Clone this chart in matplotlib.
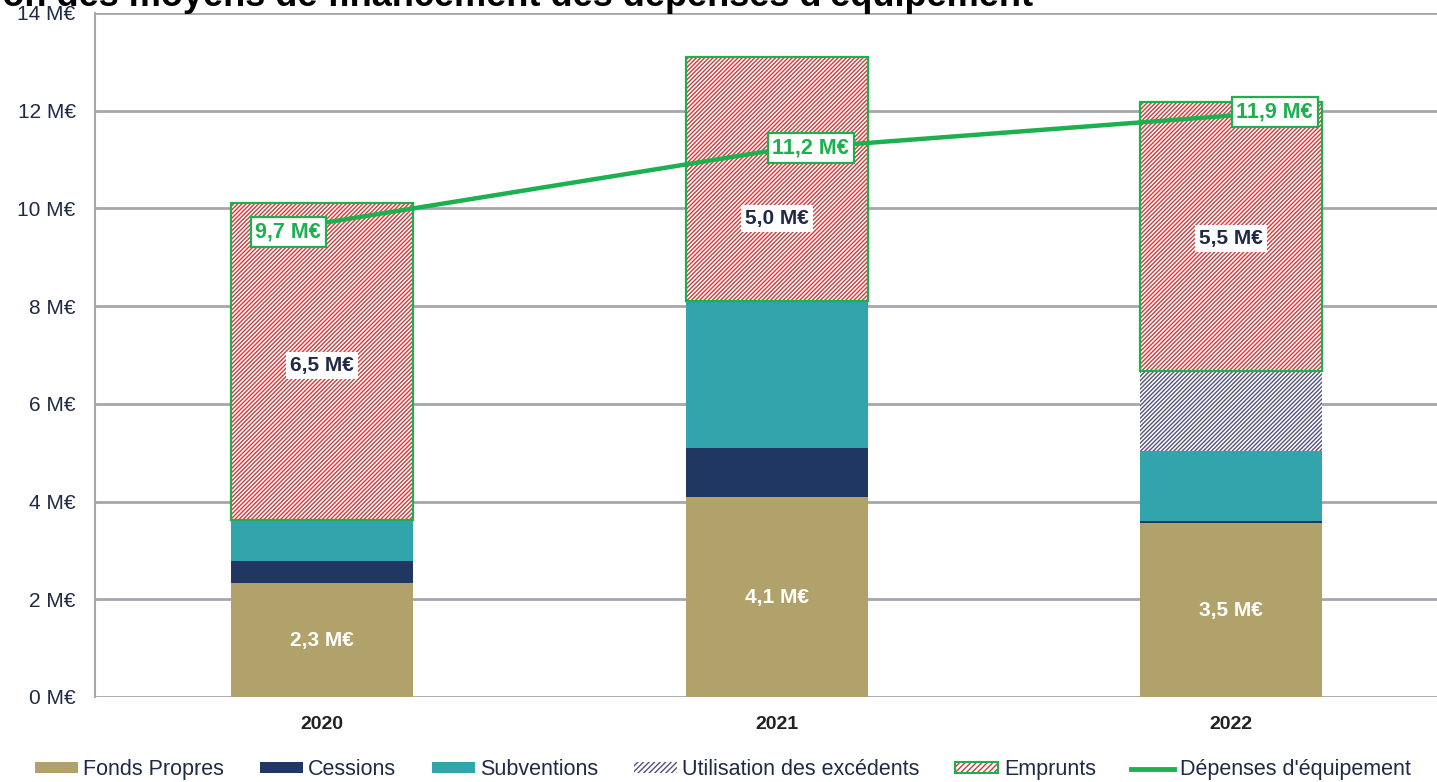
import matplotlib
matplotlib.use("Agg")
import matplotlib.pyplot as plt
from matplotlib.patches import Patch
from matplotlib.lines import Line2D
import numpy as np

plt.rcParams['font.family'] = ['Liberation Sans', 'DejaVu Sans']

years = ["2020", "2021", "2022"]
fonds_propres = [2.33, 4.09, 3.56]
cessions = [0.45, 1.01, 0.04]
subventions = [0.84, 3.00, 1.43]
utilisation = [0.0, 0.0, 1.64]
emprunts = [6.49, 5.00, 5.51]
depenses = [9.7, 11.2, 11.9]

fp_labels = ["2,3 M€", "4,1 M€", "3,5 M€"]
emp_labels = ["6,5 M€", "5,0 M€", "5,5 M€"]
dep_labels = ["9,7 M€", "11,2 M€", "11,9 M€"]
yticks = [0, 2, 4, 6, 8, 10, 12, 14]
ytick_labels = [f"{v} M€" for v in yticks]
title = "Évolution des moyens de financement des dépenses d'équipement"

c_fp = "#B1A26C"
c_ces = "#1F3762"
c_sub = "#31A4AC"
c_util = "#55527A"
c_emp = "#D23A3A"
c_green = "#1DB04E"
c_grid = "#A6A6AE"
c_text = "#1F2A44"

plt.rcParams['hatch.linewidth'] = 1.0

fig = plt.figure(figsize=(14.37, 7.82), dpi=100)
# axes: x from 95px to right edge, y from 697px (0) to 13px (14)
ax = fig.add_axes([0.0661, 0.1087, 0.9339, 0.8747])

x = np.arange(len(years))
w = 0.4
fp = np.array(fonds_propres)
ces = np.array(cessions)
sub = np.array(subventions)
ut = np.array(utilisation)
em = np.array(emprunts)

ax.bar(x, fp, w, color=c_fp, zorder=3)
b1 = fp
ax.bar(x, ces, w, bottom=b1, color=c_ces, zorder=3)
b2 = b1 + ces
ax.bar(x, sub, w, bottom=b2, color=c_sub, zorder=3)
b3 = b2 + sub
ax.bar(x, ut, w, bottom=b3, color="white", edgecolor=c_util, hatch="////////", linewidth=0, zorder=3)
b4 = b3 + ut
ax.bar(x, em, w, bottom=b4, color="white", edgecolor=c_emp, hatch="////////", linewidth=0, zorder=3)
ax.bar(x, em, w, bottom=b4, color="none", edgecolor=c_green, linewidth=1.6, zorder=4)

ax.plot(x, depenses, color=c_green, linewidth=3.2, zorder=5, solid_capstyle='butt')

# labels
fp_y = [v / 2 for v in fonds_propres]
for i in range(len(years)):
    ax.text(x[i], fp_y[i], fp_labels[i], ha='center', va='center', color='white',
            fontsize=15, fontweight='bold', zorder=6)
emp_y = [6.79, 9.80, 9.39]
for i in range(len(years)):
    ax.text(x[i], emp_y[i], emp_labels[i], ha='center', va='center', color=c_text,
            fontsize=15, fontweight='bold', zorder=6,
            bbox=dict(boxstyle='square,pad=0.2', facecolor='white', edgecolor='none'))
dep_dx = [-0.075, 0.075, 0.096]
dep_dy = [-0.18, 0.04, 0.07]
for i in range(len(years)):
    ax.text(x[i] + dep_dx[i], depenses[i] + dep_dy[i], dep_labels[i], ha='center', va='center',
            color=c_green, fontsize=15.5, fontweight='bold', zorder=7,
            bbox=dict(boxstyle='square,pad=0.22', facecolor='white', edgecolor=c_green, linewidth=1.6))

ax.set_xlim(-0.5, 2.453)
ax.set_ylim(0, 14)
ax.set_yticks(yticks)
ax.set_yticklabels(ytick_labels, fontsize=15, color=c_text)
ax.set_xticks(x)
ax.set_xticklabels(years, fontsize=14, fontweight='bold', color='#222222')
ax.tick_params(axis='x', length=0, pad=14)
ax.tick_params(axis='y', length=0, pad=14)
ax.grid(axis='y', color=c_grid, linewidth=2, zorder=0)
for s in ['top', 'right', 'bottom']:
    ax.spines[s].set_visible(False)
ax.spines['left'].set_color(c_grid)
ax.spines['left'].set_linewidth(1.5)

h_emp = (Patch(facecolor="white", edgecolor=c_emp, hatch="//////", linewidth=0),
         Patch(facecolor="none", edgecolor=c_green, linewidth=1.5))
handles = [
    Patch(facecolor=c_fp),
    Patch(facecolor=c_ces),
    Patch(facecolor=c_sub),
    Patch(facecolor="white", edgecolor=c_util, hatch="//////", linewidth=0),
    h_emp,
    Line2D([0], [0], color=c_green, linewidth=3.5),
]
labels = ["Fonds Propres", "Cessions", "Subventions", "Utilisation des excédents",
          "Emprunts", "Dépenses d'équipement"]
fig.legend(handles=handles, labels=labels, loc='center', bbox_to_anchor=(0.503, 0.0155), ncol=6,
           frameon=False, fontsize=15.5, handlelength=2.0, handleheight=0.45,
           columnspacing=1.65, handletextpad=0.25, labelcolor=c_text, borderpad=0)

fig.text(0.719, 1 - 6 / 782, title, ha='right', va='baseline', fontsize=26,
         fontweight='bold', color='black')

fig.savefig("out.png", dpi=100)
